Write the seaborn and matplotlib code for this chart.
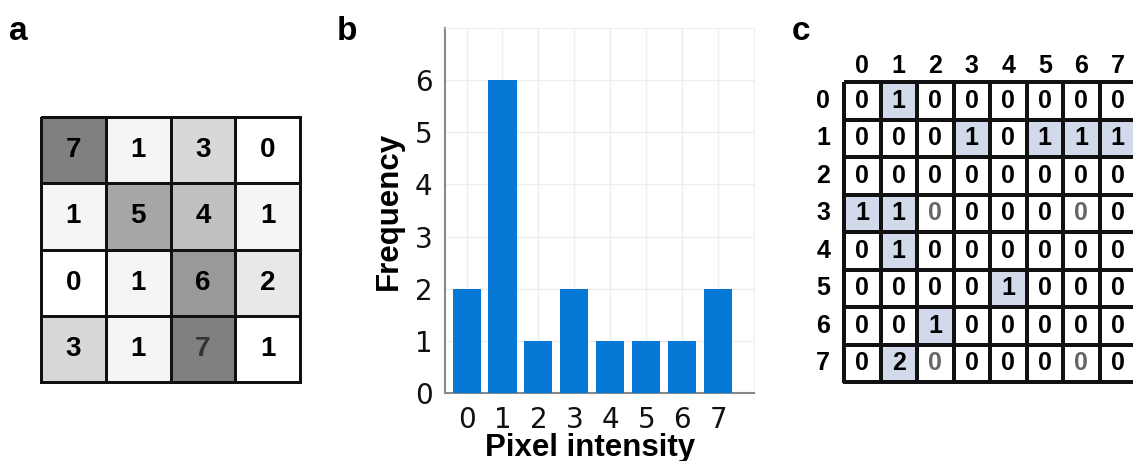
import numpy as np
import matplotlib
matplotlib.use('Agg')
import matplotlib.pyplot as plt
import seaborn as sns
from matplotlib.colors import ListedColormap

sns.set_style('white')
plt.rcParams['font.family'] = ['DejaVu Sans']
plt.rcParams['text.color'] = 'black'
plt.rcParams['axes.labelcolor'] = 'black'
plt.rcParams['xtick.color'] = 'black'
plt.rcParams['ytick.color'] = 'black'
BOLD = 'Liberation Sans'

# panel a: 4x4 image and its cell shades (grey level 0..255)
image = [[7, 1, 3, 0],
         [1, 5, 4, 1],
         [0, 1, 6, 2],
         [3, 1, 7, 1]]
shade = [[128, 245, 216, 255],
         [245, 166, 192, 245],
         [255, 245, 153, 232],
         [216, 245, 128, 255]]

# panel b: histogram
intensity = [0, 1, 2, 3, 4, 5, 6, 7]
frequency = [2, 6, 1, 2, 1, 1, 1, 2]

# panel c: co-occurrence matrix
glcm = [[0, 1, 0, 0, 0, 0, 0, 0],
        [0, 0, 0, 1, 0, 1, 1, 1],
        [0, 0, 0, 0, 0, 0, 0, 0],
        [1, 1, 0, 0, 0, 0, 0, 0],
        [0, 1, 0, 0, 0, 0, 0, 0],
        [0, 0, 0, 0, 1, 0, 0, 0],
        [0, 0, 1, 0, 0, 0, 0, 0],
        [0, 2, 0, 0, 0, 0, 0, 0]]
grey_zeros = [(3, 2), (3, 6), (7, 2), (7, 6)]

W, H = 1133, 461
fig = plt.figure(figsize=(W / 100, H / 100), dpi=100)


def box(l, t, r, b):
    return [l / W, 1 - b / H, (r - l) / W, (b - t) / H]


# ---- a ----
ax_a = fig.add_axes(box(41, 117, 300, 382))
sns.heatmap(np.array(shade) / 255.0, annot=np.array(image), fmt='d', cmap='gray',
            vmin=0, vmax=1, cbar=False, linewidths=2, linecolor='#111111',
            xticklabels=False, yticklabels=False, ax=ax_a,
            annot_kws={'fontsize': 20, 'fontweight': 'bold', 'family': BOLD})
ax_a.collections[0].set_clip_on(False)
for t in ax_a.texts:
    t.set_color('black')
ax_a.texts[14].set_color('#333333')

# ---- b ----
ax_b = fig.add_axes(box(445, 28, 754, 393))
sns.barplot(x=intensity, y=frequency, color='#0679d6', saturation=1, width=0.78,
            linewidth=0, ax=ax_b, zorder=3)
ax_b.set_xlim(-0.6, 8.0)
ax_b.set_ylim(0, 7)
ax_b.set_yticks(range(7))
ax_b.set_xticks(range(8))
ax_b.set_xticklabels([str(i) for i in intensity])
ax_b.grid(True, color='#eeeeee', linewidth=1, zorder=0)
ax_b.set_axisbelow(True)
for s in ['top', 'right']:
    ax_b.spines[s].set_color('#eeeeee')
for s in ['left', 'bottom']:
    ax_b.spines[s].set_color('#888888')
    ax_b.spines[s].set_linewidth(1.5)
ax_b.tick_params(direction='in', length=5, color='#777777', labelsize=20,
                 labelcolor='#111111', pad=9)
ax_b.set_xlabel('Pixel intensity', fontsize=22.5, fontweight='bold', family=BOLD, labelpad=0)
ax_b.set_ylabel('Frequency', fontsize=22.5, fontweight='bold', family=BOLD, labelpad=8)
ax_b.xaxis.set_label_coords(0.47, -0.11)

# ---- c ----
ax_c = fig.add_axes(box(844, 82, 1136, 382))
mask_cmap = ListedColormap(['#ffffff', '#d1d9ea'])
sns.heatmap((np.array(glcm) > 0).astype(int), annot=np.array(glcm), fmt='d',
            cmap=mask_cmap, vmin=0, vmax=1, cbar=False, linewidths=1.7,
            linecolor='#111111', ax=ax_c,
            annot_kws={'fontsize': 18, 'fontweight': 'bold', 'family': BOLD})
ax_c.collections[0].set_clip_on(False)
for t in ax_c.texts:
    t.set_color('black')
for r, c in grey_zeros:
    ax_c.texts[r * 8 + c].set_color('#666666')
ax_c.xaxis.tick_top()
ax_c.set_xticklabels([str(i) for i in intensity], fontsize=18, fontweight='bold', family=BOLD,
                     color='black')
ax_c.set_yticklabels([str(i) for i in intensity], fontsize=18, fontweight='bold', family=BOLD,
                     rotation=0, color='black')
ax_c.tick_params(length=0, pad=3)
ax_c.tick_params(axis='y', pad=10)

# panel letters
for x, lab in [(9, 'a'), (337, 'b'), (792, 'c')]:
    fig.text(x / W, 1 - 40 / H, lab, fontsize=24, fontweight='bold', family=BOLD,
             color='black', ha='left', va='baseline')

fig.savefig('out.png', dpi=100)
